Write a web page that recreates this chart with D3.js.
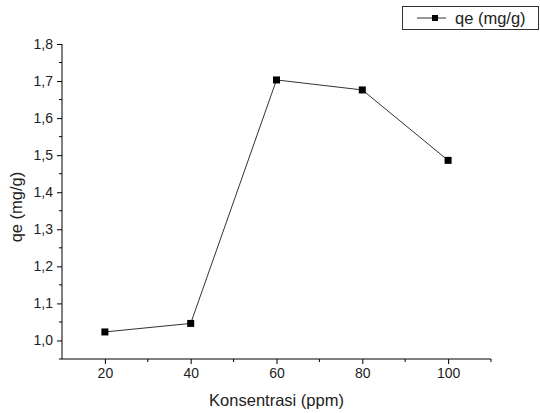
<!DOCTYPE html>
<html>
<head>
<meta charset="utf-8">
<script src="https://cdn.jsdelivr.net/npm/d3@7"></script>
<style>
  body { margin: 0; background: #fff; }
  text { font-family: "Liberation Sans", Arial, sans-serif; fill: #222; }
</style>
</head>
<body>
<svg id="chart"></svg>
<script>
// data
const konsentrasi = [20, 40, 60, 80, 100]
const qe = [1.023, 1.046, 1.703, 1.676, 1.486]
const xTicks = [20, 40, 60, 80, 100]
const yTicks = [1.0, 1.1, 1.2, 1.3, 1.4, 1.5, 1.6, 1.7, 1.8]

const width = 540
const height = 413
const padLeft = 62
const padRight = 49
const padTop = 44
const padBottom = 54

let svg = d3.select('#chart')
  .attr('width', width)
  .attr('height', height)

let xScale = d3.scaleLinear().domain([10, 110]).range([padLeft, width - padRight])
let yScale = d3.scaleLinear().domain([0.95, 1.8]).range([height - padBottom, padTop])

const fmt = v => d3.format('.1f')(v).replace('.', ',')

// x axis
let xAxis = svg.append('g')
  .attr('transform', 'translate(0,' + (height - padBottom) + ')')
  .call(d3.axisBottom(xScale).tickValues(xTicks).tickSize(5).tickPadding(4).tickFormat(d => d))
xAxis.selectAll('text').style('font-size', '14px').style('font-family', 'Liberation Sans, Arial, sans-serif').attr('fill', '#222')
xAxis.select('path').attr('d', 'M' + xScale(10) + ',0H' + xScale(110))
// minor x ticks
xAxis.selectAll('.minor')
  .data([30, 50, 70, 90, 110])
  .enter().append('line')
  .attr('class', 'minor')
  .attr('x1', d => xScale(d)).attr('x2', d => xScale(d))
  .attr('y1', 0).attr('y2', 3)
  .attr('stroke', '#000')

// y axis
let yAxis = svg.append('g')
  .attr('transform', 'translate(' + padLeft + ',0)')
  .call(d3.axisLeft(yScale).tickValues(yTicks).tickSize(5).tickPadding(4).tickFormat(fmt))
yAxis.selectAll('text').style('font-size', '14px').style('font-family', 'Liberation Sans, Arial, sans-serif').attr('fill', '#222')
yAxis.select('path').attr('d', 'M0,' + yScale(1.8) + 'V' + yScale(0.95))
yAxis.selectAll('.minor')
  .data([0.95, 1.05, 1.15, 1.25, 1.35, 1.45, 1.55, 1.65, 1.75])
  .enter().append('line')
  .attr('class', 'minor')
  .attr('y1', d => yScale(d)).attr('y2', d => yScale(d))
  .attr('x1', 0).attr('x2', -3)
  .attr('stroke', '#000')

// axis titles
svg.append('text')
  .attr('x', (xScale(10) + xScale(110)) / 2)
  .attr('y', 406)
  .attr('text-anchor', 'middle')
  .style('font-size', '16.5px')
  .text('Konsentrasi (ppm)')

svg.append('text')
  .attr('transform', 'translate(22,' + yScale(1.36) + ') rotate(-90)')
  .attr('text-anchor', 'middle')
  .style('font-size', '16.5px')
  .text('qe (mg/g)')

// line + markers
let pts = konsentrasi.map((k, i) => ({ x: k, y: qe[i] }))
let line = d3.line().x(d => xScale(d.x)).y(d => yScale(d.y))
svg.append('path')
  .attr('d', line(pts))
  .attr('fill', 'none')
  .attr('stroke', '#333')
  .attr('stroke-width', 1)

svg.selectAll('.pt')
  .data(pts)
  .enter().append('rect')
  .attr('class', 'pt')
  .attr('x', d => xScale(d.x) - 3.5)
  .attr('y', d => yScale(d.y) - 3.5)
  .attr('width', 7)
  .attr('height', 7)
  .attr('fill', '#000')

// legend
let legend = svg.append('g')
legend.append('rect')
  .attr('x', 402.5).attr('y', 6.5)
  .attr('width', 136).attr('height', 23)
  .attr('fill', '#fff').attr('stroke', '#333')
legend.append('line')
  .attr('x1', 417).attr('x2', 446).attr('y1', 18).attr('y2', 18)
  .attr('stroke', '#333')
legend.append('rect')
  .attr('x', 432).attr('y', 15).attr('width', 6).attr('height', 6)
  .attr('fill', '#000')
legend.append('text')
  .attr('x', 455).attr('y', 24)
  .style('font-size', '16.5px')
  .text('qe (mg/g)')
</script>
</body>
</html>
